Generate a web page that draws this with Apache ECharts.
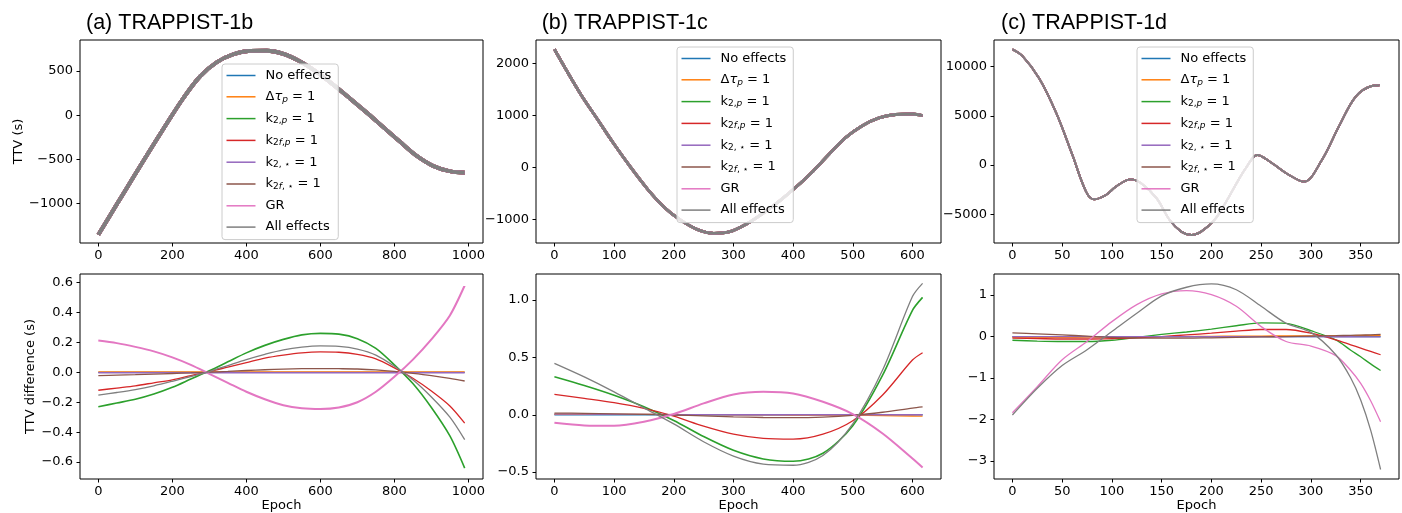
<!DOCTYPE html>
<html><head><meta charset="utf-8">
<script src="https://cdn.jsdelivr.net/npm/echarts@6/dist/echarts.min.js"></script>
<style>html,body{margin:0;padding:0;background:#fff}#c{width:1402px;height:513px}</style>
</head><body><div id="c"></div>
<script>
// ---------- names / colours ----------
const seriesNames = ['No effects','Δτp = 1','k2,p = 1','k2f,p = 1','k2,⋆ = 1','k2f,⋆ = 1','GR','All effects'];
const richNames = ['{m|No effects}','{m|Δ}{mi|τ}{si|p}{m| = 1}','{m|k}{s|2,}{si|p}{m| = 1}','{m|k}{s|2}{si|f}{s|,}{si|p}{m| = 1}',
  '{m|k}{s|2, ⋆}{m| = 1}','{m|k}{s|2}{si|f}{s|, ⋆}{m| = 1}','{m|GR}','{m|All effects}'];
const seriesColors = ['#1f77b4','#ff7f0e','#2ca02c','#d62728','#9467bd','#8c564b','#e377c2','#7f7f7f'];
const panelTitles = ['(a) TRAPPIST-1b','(b) TRAPPIST-1c','(c) TRAPPIST-1d'];

// ---------- top row: TTV (s) ----------
const epochTopA = [0,50,95,140,185,230,275,320,365,410,455,500,545,590,635,680,725,770,815,860,905,950,990];
const ttvA = [-1354,-1010,-700,-395,-95,195,440,600,690,728,730,695,610,490,345,190,30,-135,-300,-460,-575,-635,-650];
const epochTopB = [0,43,71,99,127,155,183,211,239,267,294,322,350,378,404,433,461,488,516,544,572,600,617];
const ttvB = [2269,1423,942,461,12,-404,-757,-1013,-1193,-1269,-1238,-1090,-880,-640,-390,-80,260,570,800,950,1015,1025,995];
const epochTopC = [0,10,27,44,60,74,82,94,104,119,130,145,158,170,180,190,203,215,225,235,246,261,278,293,311,328,345,361,369];
const ttvC = [11770,11100,8800,5300,1100,-2700,-3490,-3050,-2200,-1460,-1900,-3400,-5595,-6800,-7121,-6750,-5595,-3700,-1900,-250,1017,173,-1017,-1699,509,3900,6950,8037,8108];

// ---------- bottom row: TTV difference (s) ----------
const epochBotA = [0,50,100,150,200,250,300,350,400,450,500,550,600,650,700,750,800,850,900,950,990];
const aNone = [0,0,0,0,0,0,0,0,0,0,0,0,0,0,0,0,0,0,0,0,0];
const aDtau = [0.003,0.003,0.003,0.003,0.003,0.003,0.003,0.003,0.003,0.003,0.003,0.003,0.003,0.003,0.003,0.003,0.003,0.003,0.003,0.003,0.003];
const aK2p = [-0.23,-0.205,-0.18,-0.145,-0.10,-0.045,0.01,0.07,0.13,0.18,0.22,0.25,0.26,0.255,0.225,0.16,0.05,-0.075,-0.235,-0.425,-0.64];
const aK2fp = [-0.12,-0.105,-0.09,-0.07,-0.05,-0.022,0.005,0.035,0.065,0.095,0.115,0.13,0.136,0.134,0.12,0.09,0.03,-0.04,-0.125,-0.225,-0.34];
const aK2s = [-0.003,-0.003,-0.003,-0.003,-0.003,-0.003,-0.003,-0.003,-0.003,-0.003,-0.003,-0.003,-0.003,-0.003,-0.003,-0.003,-0.003,-0.003,-0.003,-0.003,-0.003];
const aK2fs = [-0.022,-0.019,-0.016,-0.012,-0.008,-0.004,0.001,0.006,0.012,0.017,0.021,0.024,0.025,0.024,0.022,0.016,0.006,-0.007,-0.022,-0.04,-0.058];
const aGR = [0.212,0.195,0.17,0.14,0.10,0.05,-0.01,-0.07,-0.13,-0.18,-0.22,-0.24,-0.245,-0.235,-0.2,-0.13,-0.03,0.085,0.22,0.38,0.58];
const aAll = [-0.153,-0.135,-0.115,-0.09,-0.06,-0.028,0.005,0.045,0.085,0.12,0.15,0.168,0.176,0.173,0.155,0.115,0.04,-0.05,-0.165,-0.3,-0.45];

const epochBotB = [0,50,100,150,200,250,300,350,400,450,500,550,600,617];
const bNone = [0,0,0,0,0,0,0,0,0,0,0,0,0,0];
const bDtau = [0.004,0.004,0.003,0.003,0.002,0.001,0,-0.001,-0.002,-0.003,-0.005,-0.007,-0.011,-0.012];
const bK2p = [0.331,0.255,0.17,0.07,-0.05,-0.19,-0.31,-0.385,-0.405,-0.335,-0.095,0.345,0.91,1.023];
const bK2fp = [0.177,0.142,0.105,0.055,-0.012,-0.099,-0.169,-0.206,-0.212,-0.169,-0.052,0.172,0.477,0.541];
const bK2s = [0.006,0.005,0.004,0.003,0.002,0.001,0,0,0,0,0,0,0,0];
const bK2fs = [0.015,0.012,0.008,0.004,-0.002,-0.01,-0.018,-0.024,-0.025,-0.02,-0.005,0.022,0.058,0.068];
const bGR = [-0.07,-0.093,-0.096,-0.061,0.006,0.099,0.177,0.2,0.186,0.113,0.006,-0.163,-0.381,-0.459];
const bAll = [0.448,0.33,0.2,0.06,-0.08,-0.235,-0.36,-0.43,-0.44,-0.355,-0.08,0.39,1.03,1.145];

const epochBotC = [0,25,50,75,100,125,150,175,200,225,250,275,300,325,340,350,360,370];
const cNone = [0,0,0,0,0,0,0,0,0,0,0,0,0,0,0,0,0,0];
const cDtau = [-0.02,-0.02,-0.02,-0.015,-0.01,-0.01,0,0,0.005,0.01,0.01,0.015,0.015,0.02,0.02,0.025,0.025,0.03];
const cK2p = [-0.09,-0.11,-0.12,-0.12,-0.09,-0.02,0.05,0.11,0.18,0.26,0.33,0.32,0.14,-0.08,-0.33,-0.49,-0.66,-0.82];
const cK2fp = [-0.04,-0.05,-0.06,-0.06,-0.05,-0.03,0.0,0.04,0.08,0.13,0.17,0.17,0.08,-0.08,-0.2,-0.28,-0.36,-0.44];
const cK2s = [0,0,0,0,0,0,0,0,0,0,0,0,0,-0.005,-0.005,-0.01,-0.01,-0.01];
const cK2fs = [0.09,0.065,0.04,0.01,-0.02,-0.035,-0.04,-0.04,-0.03,-0.02,-0.01,0.0,0.01,0.02,0.03,0.035,0.04,0.05];
const cGR = [-1.84,-1.21,-0.56,-0.12,0.36,0.77,1.03,1.11,1.01,0.73,0.24,-0.12,-0.23,-0.46,-0.82,-1.13,-1.55,-2.06];
const cAll = [-1.895,-1.25,-0.7,-0.32,0.12,0.56,0.98,1.19,1.27,1.13,0.73,0.32,0.1,-0.44,-1.0,-1.53,-2.26,-3.21];

// ---------- tick labels ----------
const xTicksA = [0,200,400,600,800,1000];
const xTicksB = [0,100,200,300,400,500,600];
const xTicksC = [0,50,100,150,200,250,300,350];
const yTicksTopA = [-1000,-500,0,500];
const yTicksTopB = [-1000,0,1000,2000];
const yTicksTopC = [-5000,0,5000,10000];
const yTicksBotA = [-0.6,-0.4,-0.2,0,0.2,0.4,0.6];
const yTicksBotB = [-0.5,0,0.5,1.0];
const yTicksBotC = [-3,-2,-1,0,1];

// ---------- build ----------
const FONT = 'DejaVu Sans';
const minus = s => s.replace('-', '\u2212');
const fmtInt = v => minus(String(Math.round(v)));
const fmt1 = v => minus((Math.abs(v) < 1e-9 ? 0 : v).toFixed(1));
const fmt0 = v => minus((Math.abs(v) < 1e-9 ? 0 : v).toFixed(0));

const grids = [
  {left:80, top:40, width:403, height:203},
  {left:536, top:40, width:405, height:203},
  {left:994, top:40, width:405, height:203},
  {left:80, top:274, width:403, height:205},
  {left:536, top:274, width:405, height:205},
  {left:994, top:274, width:405, height:205}
].map(g => Object.assign(g, {show:true, borderColor:'#000', borderWidth:1, containLabel:false}));

function axisCommon(ticks, formatter) {
  return {
    type:'value', scale:false,
    axisLine:{show:false, onZero:false}, splitLine:{show:false},
    axisTick:{show:true, inside:false, length:3.5, lineStyle:{color:'#000', width:1}, customValues:ticks},
    axisLabel:{customValues:ticks, color:'#000', fontFamily:FONT, fontSize:13, formatter, hideOverlap:false}
  };
}
const xRanges = [[-49.5,1039.5],[-30.85,647.85],[-18.5,388.5]];
const xTicks = [xTicksA, xTicksB, xTicksC];
const xAxis = [];
for (let r = 0; r < 2; r++) for (let p = 0; p < 3; p++) {
  const ax = axisCommon(xTicks[p], fmtInt);
  ax.gridIndex = r*3+p; ax.min = xRanges[p][0]; ax.max = xRanges[p][1];
  ax.position = 'bottom';
  ax.axisLabel.margin = 6;
  if (r === 1) { ax.name = 'Epoch'; ax.nameLocation = 'middle'; ax.nameGap = 20;
    ax.nameTextStyle = {fontFamily:FONT, fontSize:13, color:'#000'}; }
  xAxis.push(ax);
}
const yRanges = [[-1448,852],[-1456,2448],[-7935,12716],[-0.713,0.657],[-0.56,1.227],[-3.44,1.51]];
const yTicks = [yTicksTopA,yTicksTopB,yTicksTopC,yTicksBotA,yTicksBotB,yTicksBotC];
const yFmts = [fmtInt,fmtInt,fmtInt,fmt1,fmt1,fmt0];
const yAxis = yRanges.map((rg,i) => {
  const ax = axisCommon(yTicks[i], yFmts[i]);
  ax.gridIndex = i; ax.min = rg[0]; ax.max = rg[1]; ax.position = 'left';
  ax.axisLabel.margin = 7;
  return ax;
});
yAxis[0].name = 'TTV (s)'; yAxis[0].nameLocation = 'middle'; yAxis[0].nameGap = 54;
yAxis[0].nameTextStyle = {fontFamily:FONT, fontSize:13, color:'#000'};
yAxis[3].name = 'TTV difference (s)'; yAxis[3].nameLocation = 'middle'; yAxis[3].nameGap = 41;
yAxis[3].nameTextStyle = {fontFamily:FONT, fontSize:13, color:'#000'};

const pts = (xs, ys) => xs.map((x,i) => [x, ys[i]]);
const series = [];
const topSets = [[epochTopA, ttvA, 3.8],[epochTopB, ttvB, 2.8],[epochTopC, ttvC, 1.9]];
topSets.forEach((t, p) => {
  seriesNames.forEach((nm, k) => {
    series.push({type:'line', name:nm, xAxisIndex:p, yAxisIndex:p, data:pts(t[0], t[1]),
      showSymbol:false, symbol:'none', smooth:0.35, color:seriesColors[k],
      lineStyle:{width:t[2], color:seriesColors[k]}, emphasis:{disabled:true}, animation:false});
  });
});
const botSets = [
  [epochBotA, [aNone,aDtau,aK2p,aK2fp,aK2s,aK2fs,aGR,aAll]],
  [epochBotB, [bNone,bDtau,bK2p,bK2fp,bK2s,bK2fs,bGR,bAll]],
  [epochBotC, [cNone,cDtau,cK2p,cK2fp,cK2s,cK2fs,cGR,cAll]]
];
botSets.forEach((b, p) => {
  b[1].forEach((ys, k) => {
    let w = 1.3;
    if (k === 6 && p < 2) w = 2;
    if (k === 2 && p < 2) w = 1.6;
    series.push({type:'line', name:seriesNames[k], xAxisIndex:3+p, yAxisIndex:3+p, data:pts(b[0], ys),
      showSymbol:false, symbol:'none', smooth:0.3, color:seriesColors[k],
      lineStyle:{width:w, color:seriesColors[k]}, emphasis:{disabled:true}, animation:false});
  });
});

const rich = {
  m:{fontFamily:FONT, fontSize:13, color:'#000', lineHeight:14},
  mi:{fontFamily:FONT, fontSize:13, color:'#000', lineHeight:14, fontStyle:'italic'},
  s:{fontFamily:FONT, fontSize:9, color:'#000', lineHeight:6, verticalAlign:'bottom'},
  si:{fontFamily:FONT, fontSize:9, color:'#000', lineHeight:6, verticalAlign:'bottom', fontStyle:'italic'}
};
const legendPos = [[222,64],[677,47],[1137,47]];
const legend = legendPos.map(pos => ({
  show:true, left:pos[0], top:pos[1], orient:'vertical', data:seriesNames.slice(),
  icon:'rect', itemWidth:29, itemHeight:1.5, itemGap:8.3, padding:[5,7,6,4.5],
  backgroundColor:'rgba(255,255,255,0.8)', borderColor:'#cccccc', borderWidth:1, borderRadius:3,
  selectedMode:false,
  formatter: name => richNames[seriesNames.indexOf(name)],
  textStyle:{fontFamily:FONT, fontSize:13, color:'#000', padding:[0,0,0,5], rich}
}));

const title = panelTitles.map((t,i) => ({
  text:t, left:[86,541.7,1001][i], top:12, padding:0,
  textStyle:{fontFamily:'Liberation Sans', fontSize:21.5, fontWeight:'normal', color:'#000'}
}));

const chart = echarts.init(document.getElementById('c'), null, {renderer:'canvas'});
chart.setOption({animation:false, backgroundColor:'#fff', title, legend, grid:grids, xAxis, yAxis, series});
</script></body></html>
